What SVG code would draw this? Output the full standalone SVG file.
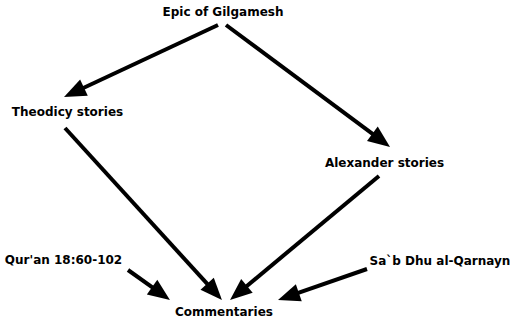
<svg xmlns="http://www.w3.org/2000/svg" width="523" height="330" viewBox="0 0 523 330">
<style>
  .lbl { font-family: "DejaVu Sans", "Liberation Sans", sans-serif; font-weight: bold; font-size: 12px; fill: #000; text-anchor: middle; }
  .edge { stroke: #000; stroke-width: 4; fill: none; marker-end: url(#ah); }
</style>
<defs>
  <marker id="ah" markerUnits="userSpaceOnUse" viewBox="-10 -10 24 20" markerWidth="24" markerHeight="20" refX="0" refY="0" orient="auto">
    <path d="M-9,-9 L13,0 L-9,9 z" fill="#000"/>
  </marker>
</defs>
<rect width="523" height="330" fill="#fff"/>
<g id="connectors">
  <line class="edge" x1="218" y1="25" x2="75.8" y2="91.5"/>
  <line class="edge" x1="226" y1="25" x2="379.6" y2="139.2"/>
  <line class="edge" x1="65" y1="128" x2="213.2" y2="290.4"/>
  <line class="edge" x1="379" y1="176" x2="240" y2="291.7"/>
  <line class="edge" x1="128" y1="270" x2="159.4" y2="292.4"/>
  <line class="edge" x1="367" y1="269" x2="290.3" y2="295.7"/>
</g>
<g id="epic"><text class="lbl" x="223" y="16">Epic of Gilgamesh</text></g>
<g id="theodicy"><text class="lbl" x="67.5" y="116">Theodicy stories</text></g>
<g id="alexander"><text class="lbl" x="384.5" y="167">Alexander stories</text></g>
<g id="quran"><text class="lbl" x="63.5" y="264">Qur'an 18:60-102</text></g>
<g id="sab"><text class="lbl" x="440" y="265">Sa`b Dhu al-Qarnayn</text></g>
<g id="commentaries"><text class="lbl" x="224" y="316">Commentaries</text></g>
</svg>
